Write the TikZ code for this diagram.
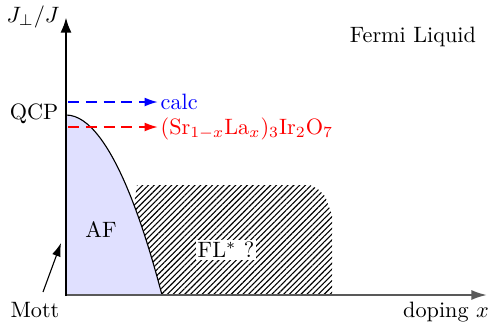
\documentclass[tikz,border=0pt]{standalone}
\usetikzlibrary{patterns,patterns.meta,arrows.meta}
\definecolor{afblue}{RGB}{224,224,255}
\begin{document}
\begin{tikzpicture}[x=0.45pt,y=-0.45pt,
  lbl/.style={inner sep=1pt},
  axisv/.style={line width=1.3pt,-{Latex[length=7pt,width=5pt]}},
  axish/.style={line width=0.9pt,draw=black!65,-{Latex[length=7pt,width=4.5pt]}},
  dasharrow/.style={line width=0.9pt,dash pattern=on 5pt off 3pt,-{Latex[length=6pt,width=4pt]}},
  hatch/.style={pattern={Lines[angle=45,distance=1.85pt,line width=0.5pt]}}]
\useasboundingbox (0,0) rectangle (494,322);
% hatched FL* region
\fill[hatch] (137,185) -- (310,185) -- (318,189) -- (325,196) -- (332,215) -- (332,295) -- (120,295) -- (120,215) -- (134,205) -- cycle;
% AF region
\fill[afblue] (66,115) parabola (162,295) -- (66,295) -- cycle;
\draw[line width=0.5pt] (66,115) parabola (162,295);
% axes
\coordinate (O) at (66,295);
\coordinate (Ytop) at (66,17);
\coordinate (Xend) at (487,295);
\draw[axish] (O) -- (Xend);
\draw[axisv] (66,296) -- (Ytop);
% arrows
\coordinate (b0) at (68,102);
\coordinate (r0) at (68,127);
\node[lbl,anchor=west,text=blue] (calc) at (158,102) {calc};
\node[lbl,anchor=west,text=red] (sr) at (158,129) {(Sr$_{1-x}$La$_x$)$_3$Ir$_2$O$_7$};
\draw[dasharrow,blue] (b0) -- (calc.west);
\draw[dasharrow,red] (r0) -- (sr.west |- r0);
% labels
\node[lbl] (ylab) at (33,17) {$J_\perp/J$};
\node[lbl] (qcp) at (34,114) {QCP};
\node[lbl] (fl) at (413,37) {Fermi Liquid};
\node[lbl] (af) at (101,230) {AF};
\node[lbl,fill=white] (fls) at (226,250) {FL$^*$ ?};
\node[lbl] (dop) at (446,312) {doping $x$};
\node[lbl] (mott) at (35,310) {Mott};
\coordinate (mt) at (61,243);
\draw[line width=0.5pt,-{Latex[length=6pt,width=4pt]}] (43,292) -- (mt);
\end{tikzpicture}
\end{document}
